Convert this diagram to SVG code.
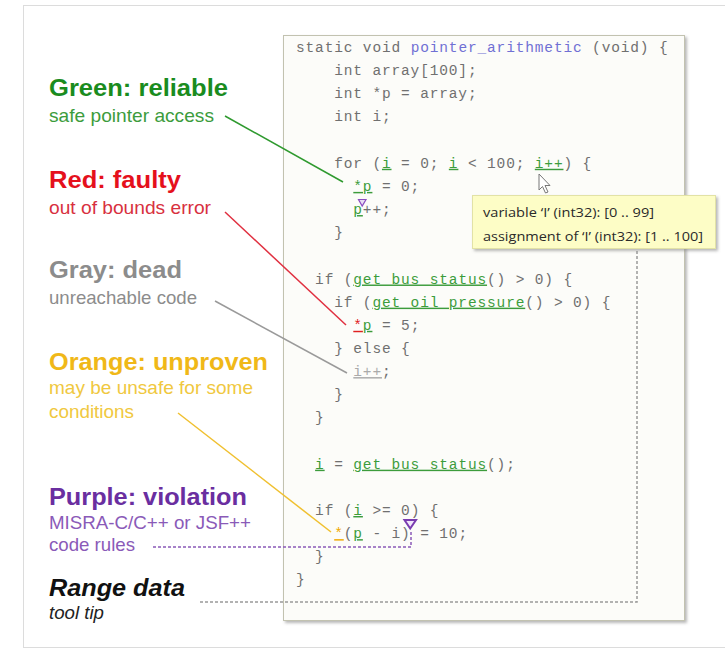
<svg xmlns="http://www.w3.org/2000/svg" width="725" height="650" viewBox="0 0 725 650">
<style>
.code{font-family:"Liberation Mono","Courier New",monospace;font-size:14.5px;letter-spacing:0.85px;fill:#707070;white-space:pre}
.g{fill:#3c9c3c;text-decoration:underline}
.b{fill:#7070d4}
.r{fill:#e02020;text-decoration:underline}
.o{fill:#f0a800;text-decoration:underline}
.d{fill:#aaa;text-decoration:underline}
.t{font-family:"Liberation Sans",Arial,sans-serif;font-size:23.5px;font-weight:bold}
.s{font-family:"Liberation Sans",Arial,sans-serif;font-size:18.5px}
.tip{font-family:"Open Sans","Liberation Sans",sans-serif;font-size:12.5px;fill:#2a2a2a}
.conn{fill:none;stroke-width:1.5}
</style>
<defs>
<filter id="sh" x="-5%" y="-5%" width="115%" height="115%">
<feDropShadow dx="2" dy="2" stdDeviation="1.5" flood-color="#888" flood-opacity="0.6"/>
</filter>
</defs>
<rect x="23.5" y="5.5" width="712" height="642" fill="#fff" stroke="#dcdcdc"/>

<g id="code-box">
<rect x="283.5" y="35.5" width="401" height="585" fill="#fcfcf9" stroke="#c2c2b0" filter="url(#sh)"/>
<text class="code" y="52"><tspan x="296">static void </tspan><tspan class="b">pointer_arithmetic</tspan><tspan> (void) {</tspan></text>
<text class="code" x="334.2" y="75.15">int array[100];</text>
<text class="code" x="334.2" y="98.3">int *p = array;</text>
<text class="code" x="334.2" y="121.45">int i;</text>
<text class="code" y="167.75"><tspan x="334.2">for (</tspan><tspan class="g">i</tspan><tspan> = 0; </tspan><tspan class="g">i</tspan><tspan> &lt; 100; </tspan><tspan class="g">i++</tspan><tspan>) {</tspan></text>
<text class="code" y="190.9"><tspan x="353.3" class="g">*p</tspan><tspan> = 0;</tspan></text>
<text class="code" y="214.05"><tspan x="353.3" class="g">p</tspan><tspan>++;</tspan></text>
<path d="M358.5 199.5 L366 199.5 L362.2 206 Z" fill="#e8dcf4" stroke="#8a4cc0" stroke-width="1.2"/>
<text class="code" x="334.2" y="237.2">}</text>
<text class="code" y="283.5"><tspan x="315.1">if (</tspan><tspan class="g">get bus status</tspan><tspan>() &gt; 0) {</tspan></text>
<text class="code" y="306.65"><tspan x="334.2">if (</tspan><tspan class="g">get oil pressure</tspan><tspan>() &gt; 0) {</tspan></text>
<text class="code" y="329.8"><tspan x="353.3" class="r">*</tspan><tspan class="g">p</tspan><tspan> = 5;</tspan></text>
<text class="code" x="334.2" y="352.95">} else {</text>
<text class="code" y="376.1"><tspan x="353.3" class="d">i++</tspan><tspan>;</tspan></text>
<text class="code" x="334.2" y="399.25">}</text>
<text class="code" x="315.1" y="422.4">}</text>
<text class="code" y="468.7"><tspan x="315.1" class="g">i</tspan><tspan> = </tspan><tspan class="g">get bus status</tspan><tspan>();</tspan></text>
<text class="code" y="515"><tspan x="315.1">if (</tspan><tspan class="g">i</tspan><tspan> &gt;= 0) {</tspan></text>
<text class="code" y="538.15"><tspan x="334.2" class="o">*</tspan><tspan>(</tspan><tspan class="g">p</tspan><tspan> - i) = 10;</tspan></text>
<path d="M404.5 520 L416 520 L410.2 528.5 Z" fill="#f0e6fa" stroke="#7a3cb0" stroke-width="2"/>
<text class="code" x="315.1" y="561.3">}</text>
<text class="code" x="296" y="584.45">}</text>
<path d="M539 174 L539 190 L542.5 186.5 L545.5 193 L548 192 L545 185.5 L550 185.5 Z" fill="#fff" stroke="#777" stroke-width="1"/>
</g>

<g id="connectors">
<line class="conn" x1="225" y1="116" x2="343" y2="182" stroke="#2f9a2f"/>
<line class="conn" x1="225" y1="212" x2="346" y2="325" stroke="#e03040"/>
<line class="conn" x1="215" y1="301" x2="347" y2="373" stroke="#9a9a9a"/>
<line class="conn" x1="178" y1="413" x2="331" y2="532" stroke="#f0c030"/>
<path class="conn" d="M153 547 L411 547 L411 531" stroke="#8a5ab8" stroke-dasharray="3 2"/>
<path class="conn" d="M200 602 L637 602 L637 250" stroke="#999" stroke-width="1.2" stroke-dasharray="3 2"/>
</g>

<g id="tooltip">
<rect x="472.5" y="195.5" width="243" height="53" fill="#fdfdc6" stroke="#e2e2a6" filter="url(#sh)"/>
<text class="tip" x="483" y="217" textLength="171" lengthAdjust="spacingAndGlyphs">variable ‘I’ (int32): [0 .. 99]</text>
<text class="tip" x="483" y="241" textLength="220" lengthAdjust="spacingAndGlyphs">assignment of ‘I’ (int32): [1 .. 100]</text>
</g>

<g id="label-green">
<text class="t" x="49" y="96" fill="#1a8c1e" textLength="179" lengthAdjust="spacingAndGlyphs">Green: reliable</text>
<text class="s" x="49" y="122" fill="#3c9c3c" textLength="165" lengthAdjust="spacingAndGlyphs">safe pointer access</text>
</g>
<g id="label-red">
<text class="t" x="49" y="188" fill="#e5101c" textLength="132" lengthAdjust="spacingAndGlyphs">Red: faulty</text>
<text class="s" x="49" y="214" fill="#d83040" textLength="162" lengthAdjust="spacingAndGlyphs">out of bounds error</text>
</g>
<g id="label-gray">
<text class="t" x="49" y="278" fill="#8c8c8c" textLength="133" lengthAdjust="spacingAndGlyphs">Gray: dead</text>
<text class="s" x="49" y="304" fill="#8c8c8c" textLength="148" lengthAdjust="spacingAndGlyphs">unreachable code</text>
</g>
<g id="label-orange">
<text class="t" x="49" y="370" fill="#f0b818" textLength="219" lengthAdjust="spacingAndGlyphs">Orange: unproven</text>
<text class="s" x="49" y="394" fill="#f0c840" textLength="204" lengthAdjust="spacingAndGlyphs">may be unsafe for some</text>
<text class="s" x="49" y="418" fill="#f0c840" textLength="85" lengthAdjust="spacingAndGlyphs">conditions</text>
</g>
<g id="label-purple">
<text class="t" x="49" y="505" fill="#6a2ea0" textLength="198" lengthAdjust="spacingAndGlyphs">Purple: violation</text>
<text class="s" x="49" y="529" fill="#8a5ab8" textLength="202" lengthAdjust="spacingAndGlyphs">MISRA-C/C++ or JSF++</text>
<text class="s" x="49" y="551" fill="#8a5ab8" textLength="86" lengthAdjust="spacingAndGlyphs">code rules</text>
</g>
<g id="label-range">
<text class="t" x="49" y="596" fill="#111" font-style="italic" textLength="136" lengthAdjust="spacingAndGlyphs">Range data</text>
<text class="s" x="49" y="619" fill="#222" font-style="italic" textLength="55" lengthAdjust="spacingAndGlyphs">tool tip</text>
</g>
</svg>
